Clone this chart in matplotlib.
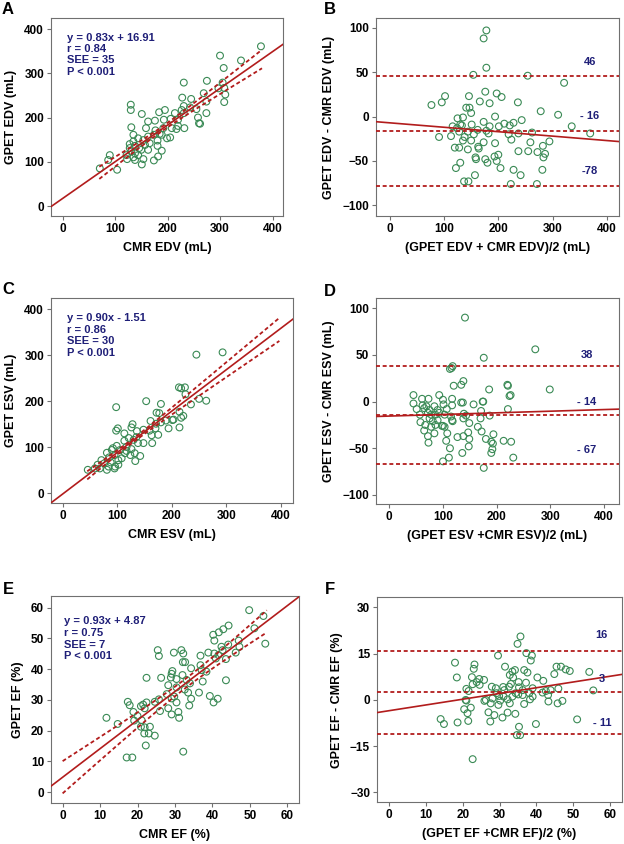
import numpy as np
import matplotlib
matplotlib.use("Agg")
import matplotlib.pyplot as plt

plt.rcParams['font.family'] = ['Liberation Sans', 'DejaVu Sans']
plt.rcParams['font.weight'] = 'bold'
plt.rcParams['axes.labelweight'] = 'bold'

GREEN = '#3a8a55'
RED = '#b21c1c'
NAVY = '#1f1f78'
SPINE = '#707070'

# ---- panel A : EDV correlation ----
edv_cmr = [307, 340, 231, 275, 305, 308, 297, 310, 308, 269, 274, 228, 245, 231, 243, 255, 274, 258, 260, 130,
           130, 151, 184, 195, 214, 227, 163, 176, 193, 206, 220, 231, 131, 159, 177, 192, 208, 217, 220, 232,
           135, 144, 154, 163, 174, 185, 199, 205, 181, 189, 135, 138, 146, 157, 166, 181, 128, 131, 138, 150,
           163, 189, 123, 138, 154, 151, 174, 182, 122, 104, 71, 90, 87, 135, 144, 128, 378, 300, 262]
edv_gpet = [312, 329, 279, 283, 279, 267, 266, 252, 235, 255, 236, 245, 242, 226, 223, 219, 210, 200, 187, 229,
            217, 208, 212, 217, 210, 217, 191, 193, 195, 197, 195, 210, 178, 176, 171, 176, 176, 174, 181, 176,
            161, 153, 149, 157, 161, 163, 153, 155, 148, 161, 146, 136, 131, 138, 142, 136, 131, 123, 119, 127,
            127, 125, 106, 104, 106, 94, 103, 112, 115, 82, 85, 115, 104, 110, 115, 140, 361, 340, 186]
edv_stats = ["y = 0.83x + 16.91", "r = 0.84", "SEE = 35", "P < 0.001"]

# ---- panel B : EDV Bland-Altman ----
edv_mean = [178, 173, 178, 154, 254, 321, 77, 96, 102, 146, 147, 141, 166, 176, 184, 197, 206, 236, 150, 125,
            135, 194, 278, 310, 335, 369, 243, 228, 211, 201, 221, 173, 184, 151, 116, 130, 124, 133, 162, 91,
            113, 128, 138, 144, 155, 178, 182, 219, 224, 237, 262, 150, 135, 173, 194, 259, 294, 282, 120, 128,
            144, 163, 164, 193, 200, 237, 255, 272, 286, 283, 158, 159, 176, 180, 197, 204, 130, 122, 228, 241,
            281, 157, 137, 145, 223, 271]
edv_diff = [97, 88, 55, 47, 46, 38, 13, 16, 23, 23, 10, 10, 17, 28, 15, 26, 22, 16, 4, -2,
            -1, 0, 6, 2, -11, -19, -4, -7, -8, -11, -10, -6, -11, -9, -11, -9, -13, -10, -15, -23,
            -22, -17, -23, -17, -20, -16, -19, -20, -26, -19, -18, -27, -27, -29, -30, -29, -28, -33, -35, -35,
            -37, -34, -36, -45, -43, -39, -39, -40, -42, -46, -46, -48, -48, -52, -50, -58, -52, -58, -60, -66,
            -60, -66, -73, -73, -76, -76]
edv_limits = [46, -16, -78]
edv_limit_labels = ["46", "- 16", "-78"]

# ---- panel C : ESV correlation ----
esv_cmr = [245, 293, 213, 224, 217, 225, 250, 263, 235, 153, 98, 180, 214, 221, 217, 203, 189, 177, 172, 214,
           180, 161, 170, 175, 163, 159, 148, 136, 128, 126, 98, 101, 113, 121, 135, 148, 164, 113, 99, 92,
           105, 117, 126, 132, 142, 133, 114, 95, 85, 76, 88, 71, 64, 59, 46, 81, 95, 102, 108, 90,
           81, 117, 130, 96, 68, 84, 102, 124, 138, 194, 201, 171]
esv_gpet = [301, 306, 230, 230, 228, 215, 205, 201, 193, 200, 187, 194, 177, 168, 164, 160, 158, 174, 175, 143,
            154, 157, 141, 127, 126, 136, 138, 135, 150, 143, 136, 141, 130, 120, 122, 109, 109, 114, 103, 98,
            94, 92, 96, 87, 81, 70, 87, 83, 78, 65, 67, 72, 62, 54, 51, 51, 54, 72, 76, 94,
            88, 101, 116, 58, 54, 58, 62, 83, 109, 141, 159, 151]
esv_stats = ["y = 0.90x - 1.51", "r = 0.86", "SEE = 30", "P < 0.001"]

# ---- panel D : ESV Bland-Altman ----
esv_mean = [141, 272, 176, 116, 118, 113, 138, 134, 120, 186, 220, 221, 224, 226, 299, 45, 61, 73, 93, 100,
            117, 45, 51, 62, 69, 65, 75, 84, 90, 101, 107, 117, 134, 137, 157, 174, 175, 171, 221, 57,
            72, 78, 86, 93, 103, 115, 139, 143, 170, 187, 58, 75, 81, 90, 67, 78, 86, 98, 103, 117,
            118, 138, 149, 165, 65, 84, 100, 108, 72, 73, 106, 113, 127, 138, 147, 149, 148, 136, 100, 111,
            172, 180, 194, 190, 193, 192, 190, 213, 227, 231, 176]
esv_diff = [90, 56, 47, 36, 38, 35, 22, 18, 17, 13, 18, 17, 6, 7, 13, 7, 3, 3, 7, 2,
            3, -2, -8, -4, -5, -7, -9, -5, -9, -3, -8, -4, -1, -1, -3, 0, 0, -10, -8, -14,
            -12, -14, -14, -12, -14, -16, -13, -15, -18, -15, -22, -18, -21, -20, -25, -27, -25, -26, -27, -20,
            -21, -18, -23, -27, -31, -34, -26, -34, -37, -44, -42, -50, -38, -37, -33, -40, -48, -55, -64, -60,
            -32, -40, -35, -43, -45, -51, -55, -42, -43, -60, -71]
esv_limits = [38, -14, -67]
esv_limit_labels = ["38", "- 14", "- 67"]

# ---- panel E : EF correlation ----
ef_cmr = [49.8, 53.6, 51.2, 54.1, 44.3, 42.9, 41.7, 40.2, 40.5, 47.0, 47.2, 44.2, 42.4, 42.7, 40.5, 38.9, 41.6,
          40.9, 43.6, 46.2, 36.8, 31.7, 32.2, 25.4, 25.7, 29.7, 32.1, 32.7, 36.8, 37.1, 34.3, 29.3, 29.1, 28.9,
          32.0, 30.4, 26.3, 22.4, 37.4, 43.6, 38.4, 33.1, 34.0, 28.2, 30.4, 32.6, 33.5, 36.4, 27.8, 29.8, 29.1,
          34.3, 39.3, 41.4, 40.3, 25.7, 24.6, 30.4, 33.8, 28.2, 26.0, 29.1, 30.9, 31.1, 22.4, 17.4, 17.9, 20.9,
          21.9, 21.5, 18.9, 20.0, 19.1, 21.1, 11.7, 14.7, 21.9, 20.9, 23.3, 21.8, 23.0, 24.6, 22.2, 17.1, 18.6,
          32.2]
ef_gpet = [59.2, 57.3, 53.3, 48.3, 54.2, 53.0, 52.0, 51.2, 49.3, 49.3, 47.3, 48.0, 47.3, 46.2, 45.1, 45.4, 44.6,
           43.5, 43.3, 45.4, 44.4, 46.2, 45.1, 46.2, 44.3, 45.4, 42.3, 42.3, 41.3, 39.7, 40.3, 39.4, 38.5, 37.3,
           38.1, 36.8, 37.2, 37.2, 36.0, 36.4, 39.2, 36.5, 35.4, 34.8, 34.1, 33.4, 32.4, 32.4, 31.9, 31.1, 30.5,
           30.4, 31.3, 30.4, 29.2, 30.2, 29.4, 29.2, 28.2, 27.3, 26.4, 25.3, 26.1, 24.2, 29.2, 29.4, 28.3, 28.0,
           27.3, 28.5, 26.1, 24.8, 23.3, 23.4, 24.2, 22.2, 21.1, 21.3, 21.3, 19.1, 19.1, 18.4, 15.2, 11.3, 11.3,
           13.2]
ef_stats = ["y = 0.93x + 4.87", "r = 0.75", "SEE = 7", "P < 0.001"]

# ---- panel F : EF Bland-Altman ----
ef_mean = [35.7, 34.9, 29.6, 37.3, 38.8, 38.5, 17.9, 23.2, 23.0, 18.4, 22.5, 24.5, 25.8, 23.8, 22.7, 24.6, 21.0,
           21.6, 20.8, 21.0, 20.4, 22.2, 21.3, 14.0, 14.9, 18.6, 21.5, 31.5, 33.5, 32.8, 34.2, 36.7, 37.6, 33.7,
           40.3, 41.9, 44.9, 45.5, 46.7, 48.0, 49.1, 54.4, 55.5, 46.0, 43.9, 42.6, 41.7, 43.2, 39.0, 37.2, 35.2,
           33.1, 31.0, 32.6, 29.0, 27.9, 29.2, 31.3, 35.3, 36.3, 34.4, 33.5, 29.9, 31.1, 28.1, 26.3, 36.3, 38.1,
           39.0, 38.3, 36.7, 35.1, 30.2, 27.6, 25.9, 32.2, 32.8, 29.7, 43.3, 45.8, 47.1, 27.0, 28.6, 32.2, 30.8,
           34.3, 27.5, 35.3, 39.9, 51.1, 34.7, 35.6, 22.7]
ef_diff = [20.6, 18.2, 14.4, 15.2, 14.4, 12.8, 12.1, 11.5, 10.1, 7.3, 7.4, 6.8, 6.5, 5.8, 5.1, 4.9, 3.6,
           2.9, 0.0, -0.2, -3.0, -2.5, -4.3, -6.2, -7.8, -7.3, -6.8, 10.8, 9.2, 8.1, 9.7, 9.7, 8.9, 7.3,
           7.3, 6.2, 8.4, 10.8, 10.8, 9.9, 9.4, 9.1, 3.1, 3.7, 3.2, 2.9, 2.4, 1.6, 3.8, 5.6, 5.8,
           5.2, 4.2, 4.3, 3.8, 4.3, 2.2, 3.2, 4.1, 3.2, 2.2, 1.1, 1.3, 1.1, 0.5, 0.0, 1.6, 2.2,
           1.1, 0.2, -1.3, 1.8, -0.2, -1.1, -0.3, 0.2, -1.1, -1.6, -0.5, -1.1, -0.3, -4.0, -4.9, -4.1, -5.7,
           -4.5, -7.0, -8.7, -7.8, -6.3, -11.4, -11.4, -19.2]
ef_limits = [16, 2.5, -11]
ef_limit_labels = ["16", "3", "- 11"]


def style_axes(ax, xlim, ylim, xticks, yticks, xlabel, ylabel):
    ax.set_xlim(xlim)
    ax.set_ylim(ylim)
    ax.set_xticks(xticks)
    ax.set_yticks(yticks)
    for s in ax.spines.values():
        s.set_color(SPINE)
        s.set_linewidth(0.8)
    ax.tick_params(direction='out', length=3, width=0.8, color=SPINE, labelsize=8.5, pad=2)
    ax.set_xlabel(xlabel, fontsize=9, labelpad=5)
    ax.set_ylabel(ylabel, fontsize=9, labelpad=5)


def band_halfwidth(x, center, h_center, x_end, h_end):
    # hyperbolic confidence band of the fitted line
    k = np.sqrt(h_end ** 2 - h_center ** 2) / abs(x_end - center)
    return np.sqrt(h_center ** 2 + (k * (x - center)) ** 2)


def plot_correlation(ax, x, y, slope, intercept, band, stats, xlim, ylim, ticks, xlabel, ylabel, txt_pos):
    ax.scatter(x, y, s=24, facecolors='none', edgecolors=GREEN, linewidths=0.8, zorder=2)
    xs = np.array(xlim)
    ax.plot(xs, slope * xs + intercept, color=RED, lw=1.2, zorder=3)
    bx = np.linspace(band[0], band[1], 100)
    hw = band_halfwidth(bx, band[2], band[3], band[1], band[4])
    for sign in (1, -1):
        ax.plot(bx, slope * bx + intercept + sign * hw, color=RED, lw=1.3,
                dashes=(2.2, 1.5), zorder=3)
    tx, ty = txt_pos
    for i, s in enumerate(stats):
        ax.text(tx, ty - i * 0.057, s, transform=ax.transAxes, color=NAVY,
                fontsize=8, fontweight='bold', va='center', ha='left')
    style_axes(ax, xlim, ylim, ticks, ticks, xlabel, ylabel)


def plot_bland_altman(ax, mean, diff, trend, limits, labels, label_x, label_y,
                      xlim, ylim, xticks, yticks, xlabel, ylabel):
    ax.scatter(mean, diff, s=24, facecolors='none', edgecolors=GREEN, linewidths=0.8, zorder=2)
    xs = np.array(xlim)
    ax.plot(xs, trend[0] + trend[1] * xs, color=RED, lw=1.2, zorder=3)
    for lim in limits:
        ax.axhline(lim, color=RED, lw=1.3, dashes=(2.2, 1.5), zorder=3)
    for lab, ly in zip(labels, label_y):
        ax.text(label_x, ly, lab, color=NAVY, fontsize=8, fontweight='bold',
                ha='center', va='center')
    style_axes(ax, xlim, ylim, xticks, yticks, xlabel, ylabel)


W, H = 624, 844
fig = plt.figure(figsize=(W / 100, H / 100), dpi=100)


def add_axes(left, top, right, bottom):
    return fig.add_axes([left / W, 1 - bottom / H, (right - left) / W, (bottom - top) / H])


axA = add_axes(51, 18, 283, 216)
axB = add_axes(376, 18, 619, 216)
axC = add_axes(51, 298, 293, 502.7)
axD = add_axes(376, 298, 619, 504)
axE = add_axes(51, 596, 299, 802.7)
axF = add_axes(377, 597, 622, 802.3)

vol_ticks = [0, 100, 200, 300, 400]
diff_ticks = [-100, -50, 0, 50, 100]
ef_ticks = [0, 10, 20, 30, 40, 50, 60]

plot_correlation(axA, edv_cmr, edv_gpet, 0.83, 16.91, (70, 380, 190, 5, 21), edv_stats,
                 (-22, 420), (-22.6, 425), vol_ticks, "CMR EDV (mL)", "GPET EDV (mL)", (0.068, 0.90))
plot_bland_altman(axB, edv_mean, edv_diff, (-7.05, -0.050), edv_limits, edv_limit_labels,
                  368, [62, 1, -61], (-25, 422), (-112, 111), vol_ticks, diff_ticks,
                  "(GPET EDV + CMR EDV)/2 (mL)", "GPET EDV - CMR EDV (mL)")
plot_correlation(axC, esv_cmr, esv_gpet, 0.90, -1.51, (45, 397, 130, 4, 25), esv_stats,
                 (-21.4, 422), (-20.4, 424), vol_ticks, "CMR ESV (mL)", "GPET ESV (mL)", (0.065, 0.902))
plot_bland_altman(axD, esv_mean, esv_diff, (-15.5, 0.0174), esv_limits, esv_limit_labels,
                  368, [50, 0, -52], (-24.8, 428), (-109.7, 111), vol_ticks, diff_ticks,
                  "(GPET ESV +CMR ESV)/2 (mL)", "GPET ESV - CMR ESV (mL)")
plot_correlation(axE, ef_cmr, ef_gpet, 0.93, 4.87, (0, 54.5, 33, 1.5, 3.6), ef_stats,
                 (-3.1, 63.1), (-3.4, 63.8), ef_ticks, "CMR EF (%)", "GPET EF (%)", (0.052, 0.879))
plot_bland_altman(axF, ef_mean, ef_diff, (-3.48, 0.186), ef_limits, ef_limit_labels,
                  57.8, [21, 6.8, -7.4], (-3.3, 63.3), (-33.2, 33.4), ef_ticks, [-30, -15, 0, 15, 30],
                  "(GPET EF +CMR EF)/2 (%)", "GPET EF - CMR EF (%)")

# panel letters
for letter, (px, py) in zip("ABCDEF", [(8, 10), (330, 10), (8, 290), (330, 291), (8, 589), (330, 589)]):
    fig.text(px / W, 1 - py / H, letter, fontsize=12, fontweight='bold', ha='center', va='center')

fig.savefig("out.png", dpi=100)
